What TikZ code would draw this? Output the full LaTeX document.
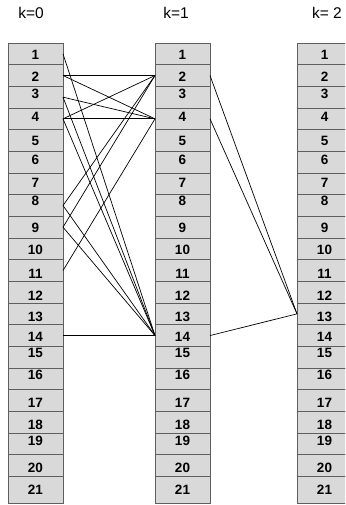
\documentclass[tikz,border=0pt]{standalone}
\usepackage{fontspec}
\setmainfont{Liberation Sans}
\begin{document}
\begin{tikzpicture}[x=1pt,y=-1pt,
  cell/.style={draw={rgb,255:red,95;green,95;blue,95},line width=0.8pt,
    fill={rgb,255:red,217;green,217;blue,217},minimum width=55pt,inner sep=0pt,outer sep=0pt},
  lab/.style={font=\fontsize{13.5}{14}\selectfont\bfseries,inner sep=0pt},
  head/.style={font=\fontsize{15.5}{17}\selectfont,inner sep=0pt},
  link/.style={black,line width=0.7pt}]
\useasboundingbox (0,0) rectangle (345,505);
\clip (0,0) rectangle (345,505);
\def\labys{{0,55,77,94,117,141,160,183,201,228,250,274,296,317,337,353,375,403,425,441,468,490}}
\foreach \c/\cx in {0/35.5,1/182.5,2/324.5}{
  \foreach \i in {1,...,20}{
    \pgfmathsetmacro{\cy}{43+21.67*(\i-1)+10.835}
    \node[cell,minimum height=21.67pt] (b\c-\i) at (\cx,\cy) {};
  }
  \node[cell,minimum height=26.6pt] (b\c-21) at (\cx,489.7) {};
  \foreach \i in {1,...,21}{
    \pgfmathsetmacro{\ly}{\labys[\i]}
    \node[lab] (t\c-\i) at (\cx,\ly) {\i};
  }
}
\node[head] (h0) at (31,13) {k=0};
\node[head] (h1) at (176,13) {k=1};
\node[head] (h2) at (327,13) {k= 2};
\foreach \a/\b in {1/14,2/2,2/4,3/4,3/14,4/2,4/4,4/14,8/2,8/14,9/2,9/14,11/4,14/14}{
  \draw[link] (b0-\a.east) -- (b1-\b.west);
}
\foreach \a/\b in {2/13,4/13,14/13}{
  \draw[link] (b1-\a.east) -- (b2-\b.west);
}
\end{tikzpicture}
\end{document}
